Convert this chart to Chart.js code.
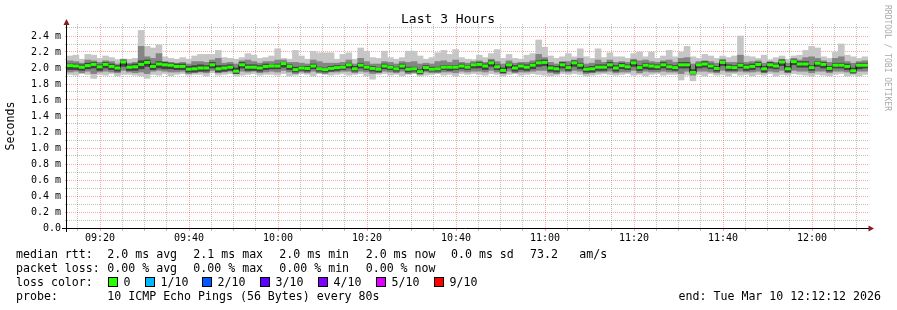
<!DOCTYPE html>
<html>
<head>
<meta charset="utf-8">
<script src="https://cdn.jsdelivr.net/npm/chart.js@4.4.1/dist/chart.umd.min.js"></script>
<style>
  html, body { margin: 0; padding: 0; background: #fff; }
  #wrap { width: 897px; height: 310px; }
</style>
</head>
<body>
<div id="wrap"><canvas id="chart" width="897" height="310"></canvas></div>
<script>
// time axis in minutes since midnight, 80s steps over 3 hours
const START = 552.58;
const STEP = 80 / 60;
const END = START + 180;

// median rtt per step (ms)
const medianRtt = [
  2.03,2.025,2.01,2.03,2.045,2.015,2.045,2.02,2.0,2.075,2.01,2.015,2.045,2.07,2.02,2.05,2.04,2.035,2.02,2.02,1.985,1.99,2.0,2.0,2.04,1.99,2.0,2.01,1.96,2.04,2.01,2.01,2.0,2.02,
  2.025,2.025,2.055,2.02,1.98,2.0,1.995,2.025,1.99,1.98,1.995,2.005,2.01,2.04,1.99,2.035,2.01,1.995,1.985,2.025,2.01,1.99,2.025,1.985,1.99,1.955,2.005,1.985,1.99,2.01,2.01,2.01,2.025,2.01,
  2.04,2.045,2.025,2.065,2.015,1.97,2.04,2.0,2.025,2.01,2.035,2.065,2.07,2.0,1.99,2.04,2.005,2.065,2.035,1.985,1.99,2.01,2.01,2.04,2.0,2.03,2.015,2.065,2.005,2.035,2.025,2.015,2.04,2.015,
  2.005,2.04,2.04,1.945,2.04,2.05,2.025,1.995,2.07,2.01,2.005,2.035,2.01,2.02,2.045,1.99,2.04,2.025,2.075,1.99,2.08,2.05,2.05,2.005,2.06,2.045,1.995,2.035,2.035,2.02,1.965,2.035,2.035
];

// smoke: outer band (slowest / fastest ping)
const smokeMax = [
  2.15,2.16,2.11,2.17,2.16,2.12,2.15,2.13,2.1,2.11,2.11,2.12,2.47,2.27,2.25,2.29,2.14,2.12,2.11,2.13,2.11,2.15,2.17,2.17,2.17,2.22,2.13,2.12,2.11,2.13,2.18,2.16,2.12,2.13,
  2.15,2.24,2.12,2.11,2.22,2.15,2.11,2.21,2.19,2.19,2.19,2.11,2.17,2.19,2.11,2.25,2.21,2.13,2.12,2.21,2.13,2.11,2.13,2.21,2.21,2.15,2.11,2.13,2.19,2.22,2.17,2.23,2.13,2.11,
  2.1,2.16,2.13,2.18,2.23,2.12,2.17,2.12,2.11,2.16,2.18,2.35,2.26,2.15,2.12,2.14,2.18,2.14,2.24,2.14,2.12,2.24,2.13,2.19,2.14,2.14,2.12,2.18,2.2,2.14,2.2,2.12,2.15,2.22,
  2.14,2.2,2.27,2.14,2.12,2.17,2.15,2.12,2.15,2.13,2.15,2.4,2.15,2.14,2.12,2.16,2.1,2.13,2.15,2.11,2.15,2.16,2.22,2.27,2.25,2.14,2.12,2.2,2.3,2.16,2.14,2.12,2.14
];
const smokeMin = [
  1.92,1.91,1.93,1.92,1.87,1.92,1.91,1.93,1.9,1.92,1.92,1.91,1.9,1.87,1.92,1.91,1.93,1.9,1.92,1.93,1.91,1.92,1.92,1.9,1.94,1.91,1.92,1.93,1.9,1.91,1.92,1.93,1.91,1.92,
  1.92,1.91,1.93,1.9,1.91,1.93,1.92,1.9,1.93,1.92,1.91,1.92,1.93,1.91,1.92,1.93,1.9,1.86,1.92,1.93,1.91,1.92,1.9,1.92,1.93,1.9,1.91,1.92,1.93,1.91,1.92,1.9,1.93,1.92,
  1.93,1.92,1.91,1.93,1.92,1.9,1.92,1.93,1.91,1.92,1.93,1.92,1.91,1.9,1.91,1.93,1.92,1.93,1.92,1.9,1.91,1.92,1.93,1.92,1.91,1.92,1.93,1.91,1.92,1.9,1.92,1.93,1.91,1.92,
  1.92,1.85,1.91,1.84,1.92,1.9,1.93,1.91,1.92,1.9,1.93,1.91,1.92,1.9,1.92,1.91,1.93,1.9,1.92,1.91,1.93,1.92,1.91,1.9,1.92,1.91,1.9,1.92,1.93,1.9,1.91,1.9,1.92
];

// smoke: middle band
const smokeHigh = [
  2.09,2.08,2.06,2.1,2.09,2.07,2.09,2.08,2.05,2.11,2.06,2.07,2.27,2.14,2.12,2.18,2.08,2.07,2.06,2.07,2.05,2.08,2.08,2.07,2.1,2.12,2.06,2.07,2.05,2.09,2.1,2.08,2.06,2.08,
  2.08,2.1,2.1,2.07,2.07,2.06,2.05,2.1,2.08,2.06,2.06,2.06,2.07,2.1,2.05,2.12,2.08,2.05,2.05,2.08,2.07,2.05,2.08,2.07,2.08,2.05,2.06,2.05,2.08,2.09,2.07,2.1,2.07,2.06,
  2.08,2.09,2.07,2.11,2.08,2.05,2.09,2.06,2.07,2.07,2.09,2.17,2.13,2.07,2.05,2.08,2.08,2.1,2.12,2.05,2.06,2.1,2.07,2.1,2.07,2.08,2.07,2.11,2.09,2.1,2.08,2.07,2.09,2.1,
  2.07,2.12,2.13,2.05,2.08,2.09,2.08,2.06,2.11,2.07,2.07,2.16,2.07,2.08,2.09,2.06,2.08,2.07,2.11,2.06,2.12,2.1,2.13,2.14,2.12,2.09,2.07,2.12,2.14,2.08,2.06,2.08,2.09
];
const smokeLow = [
  1.95,1.96,1.94,1.96,1.93,1.95,1.96,1.95,1.94,1.97,1.95,1.94,1.95,1.93,1.96,1.97,1.96,1.95,1.95,1.96,1.93,1.94,1.95,1.94,1.97,1.94,1.95,1.96,1.93,1.96,1.95,1.96,1.94,1.95,
  1.96,1.95,1.97,1.95,1.93,1.95,1.94,1.96,1.94,1.93,1.95,1.95,1.96,1.96,1.94,1.96,1.95,1.93,1.94,1.96,1.95,1.94,1.96,1.93,1.94,1.92,1.95,1.94,1.94,1.95,1.95,1.94,1.96,1.95,
  1.96,1.96,1.95,1.97,1.95,1.93,1.96,1.94,1.95,1.95,1.96,1.97,1.97,1.94,1.93,1.96,1.95,1.97,1.96,1.93,1.94,1.95,1.95,1.96,1.94,1.95,1.95,1.97,1.94,1.96,1.95,1.95,1.96,1.95,
  1.95,1.93,1.96,1.91,1.96,1.96,1.95,1.94,1.97,1.95,1.95,1.96,1.95,1.95,1.96,1.94,1.96,1.95,1.97,1.94,1.97,1.96,1.96,1.94,1.96,1.96,1.94,1.96,1.96,1.95,1.93,1.96,1.96
];

// smoke: inner band (pings closest to the median)
const coreHigh = [
  2.05,2.05,2.04,2.06,2.07,2.04,2.07,2.05,2.03,2.09,2.04,2.05,2.09,2.1,2.05,2.08,2.07,2.06,2.05,2.05,2.02,2.03,2.04,2.03,2.07,2.03,2.03,2.04,2.0,2.07,2.04,2.04,2.03,2.05,
  2.04,2.05,2.07,2.04,2.01,2.02,2.02,2.05,2.01,2.0,2.02,2.03,2.03,2.06,2.02,2.06,2.03,2.02,2.0,2.05,2.03,2.01,2.05,2.01,2.01,1.98,2.03,2.01,2.01,2.03,2.03,2.03,2.05,2.03,
  2.06,2.07,2.05,2.09,2.04,2.0,2.06,2.03,2.05,2.04,2.06,2.09,2.1,2.03,2.02,2.07,2.03,2.09,2.06,2.01,2.02,2.04,2.04,2.07,2.03,2.06,2.04,2.09,2.03,2.06,2.05,2.04,2.07,2.04,
  2.03,2.07,2.07,1.98,2.06,2.08,2.05,2.02,2.09,2.04,2.03,2.06,2.04,2.05,2.07,2.02,2.07,2.05,2.1,2.02,2.1,2.08,2.08,2.03,2.08,2.07,2.02,2.06,2.06,2.05,2.0,2.06,2.06
];
const coreLow = [
  1.98,1.98,1.97,1.99,2.0,1.97,2.0,1.98,1.96,2.02,1.97,1.97,1.99,2.02,1.98,2.0,1.99,1.99,1.98,1.98,1.95,1.95,1.96,1.96,2.0,1.95,1.96,1.97,1.93,2.0,1.97,1.97,1.96,1.98,
  1.99,1.99,2.01,1.98,1.95,1.97,1.96,1.99,1.96,1.95,1.96,1.97,1.98,2.0,1.96,2.0,1.98,1.96,1.95,1.99,1.98,1.96,1.99,1.95,1.96,1.93,1.97,1.96,1.96,1.98,1.97,1.98,1.99,1.98,
  2.0,2.0,1.98,2.02,1.98,1.94,2.0,1.96,1.98,1.97,1.99,2.02,2.03,1.96,1.95,2.0,1.97,2.02,1.99,1.95,1.95,1.97,1.97,2.0,1.96,1.99,1.98,2.02,1.97,1.99,1.98,1.98,2.0,1.98,
  1.97,2.0,2.0,1.93,2.0,2.01,1.99,1.96,2.03,1.97,1.97,2.0,1.97,1.98,2.01,1.95,2.0,1.99,2.03,1.95,2.04,2.01,2.01,1.97,2.02,2.0,1.96,2.0,2.0,1.98,1.94,1.99,2.0
];

// axis ticks
const timeTickLabels = ['09:20', '09:40', '10:00', '10:20', '10:40', '11:00', '11:20', '11:40', '12:00'];
const timeTickValues = [560, 580, 600, 620, 640, 660, 680, 700, 720];
const yTickLabels = ['0.0', '0.2 m', '0.4 m', '0.6 m', '0.8 m', '1.0 m', '1.2 m', '1.4 m', '1.6 m', '1.8 m', '2.0 m', '2.2 m', '2.4 m'];

// legend text
const rttStats = ['median rtt:', '2.0 ms avg', '2.1 ms max', '2.0 ms min', '2.0 ms now', '0.0 ms sd', '73.2', 'am/s'];
const lossStats = ['packet loss:', '0.00 % avg', '0.00 % max', '0.00 % min', '0.00 % now'];
const lossLabels = ['0', '1/10', '2/10', '3/10', '4/10', '5/10', '9/10'];
const lossColors = ['#26ff00', '#00b8ff', '#0059ff', '#5e00ff', '#7e00ff', '#dd00ff', '#ff0000'];
const probeText = '10 ICMP Echo Pings (56 Bytes) every 80s';
const endText = 'end: Tue Mar 10 12:12:12 2026';

const MONO = '"DejaVu Sans Mono", monospace';
const RED_GRID = 'rgba(255, 0, 0, 0.35)';
const GREY_GRID = 'rgba(120, 120, 120, 0.45)';

const xs = medianRtt.map((_, i) => START + (i + 0.5) * STEP);
const band = (lo, hi) => lo.map((v, i) => ({ x: xs[i], y: [v, hi[i]] }));

const minorTimes = [];
for (let t = Math.ceil(START / 5) * 5; t <= END; t += 5) minorTimes.push(t);

const decor = {
  id: 'decor',
  afterDraw(chart) {
    const c = chart.ctx;
    const a = chart.chartArea;
    c.save();

    // axes
    c.strokeStyle = '#000';
    c.lineWidth = 1;
    c.beginPath();
    c.moveTo(62, a.bottom + 0.5);
    c.lineTo(a.right + 1, a.bottom + 0.5);
    c.moveTo(a.left - 0.5, a.bottom + 4);
    c.lineTo(a.left - 0.5, a.top - 1);
    c.stroke();

    // arrow heads
    c.fillStyle = '#8b1a1a';
    c.beginPath();
    c.moveTo(a.left - 0.5, a.top - 5);
    c.lineTo(a.left - 3.5, a.top + 1);
    c.lineTo(a.left + 2.5, a.top + 1);
    c.closePath();
    c.fill();
    c.beginPath();
    c.moveTo(a.right + 6, a.bottom + 0.5);
    c.lineTo(a.right + 0.5, a.bottom - 2.5);
    c.lineTo(a.right + 0.5, a.bottom + 3.5);
    c.closePath();
    c.fill();

    // title
    c.fillStyle = '#000';
    c.textBaseline = 'middle';
    c.textAlign = 'center';
    c.font = '13px ' + MONO;
    c.fillText('Last 3 Hours', 448, 20);

    // y axis title
    c.save();
    c.translate(11, 126);
    c.rotate(-Math.PI / 2);
    c.font = '11.6px ' + MONO;
    c.fillText('Seconds', 0, 0);
    c.restore();

    // watermark
    c.save();
    c.translate(887, 58);
    c.rotate(Math.PI / 2);
    c.fillStyle = '#aaaaaa';
    c.font = '8px ' + MONO;
    c.fillText('RRDTOOL / TOBI OETIKER', 0, 0);
    c.restore();

    // legend rows
    c.textAlign = 'left';
    c.font = '11.6px ' + MONO;
    const rttX = [16, 107.3, 193.3, 279.3, 365.7, 451, 530, 579.3];
    rttStats.forEach((s, i) => c.fillText(s, rttX[i], 254.5));
    lossStats.forEach((s, i) => c.fillText(s, rttX[i], 268.5));
    c.fillText('loss color:', 16, 282.5);
    const boxX = [109, 146, 203, 261, 319, 377, 435];
    lossLabels.forEach((s, i) => {
      c.fillStyle = lossColors[i];
      c.fillRect(boxX[i], 278, 8, 8);
      c.strokeStyle = '#000';
      c.strokeRect(boxX[i] - 0.5, 277.5, 9, 9);
      c.fillStyle = '#000';
      c.fillText(s, boxX[i] + 14.5, 282.5);
    });
    c.fillText('probe:', 16, 296.5);
    c.fillText(probeText, 107.3, 296.5);
    c.textAlign = 'right';
    c.fillText(endText, 881, 296.5);

    c.restore();
  }
};

new Chart(document.getElementById('chart'), {
  type: 'bar',
  data: {
    datasets: [
      {
        type: 'line',
        label: 'median',
        data: medianRtt.map((v, i) => ({ x: xs[i], y: v })),
        stepped: 'middle',
        borderColor: '#000',
        borderWidth: 1,
        pointStyle: 'line',
        pointRadius: 3,
        pointBorderColor: '#26ff00',
        pointBorderWidth: 3,
        order: 0
      },
      { label: 'core', data: band(coreLow, coreHigh), backgroundColor: '#424242', order: 1 },
      { label: 'mid', data: band(smokeLow, smokeHigh), backgroundColor: '#858585', order: 2 },
      { label: 'outer', data: band(smokeMin, smokeMax), backgroundColor: '#c6c6c6', order: 3 }
    ]
  },
  options: {
    responsive: false,
    animation: false,
    events: [],
    layout: { padding: { top: 24, right: 29, left: 0, bottom: 0 } },
    datasets: {
      bar: { grouped: false, barPercentage: 1, categoryPercentage: 1, borderWidth: 0 }
    },
    plugins: {
      legend: { display: false },
      title: { display: false },
      tooltip: { enabled: false }
    },
    scales: {
      x: {
        type: 'linear',
        min: START,
        max: END,
        offset: false,
        afterBuildTicks: s => { s.ticks = minorTimes.map(v => ({ value: v })); },
        afterFit: s => { s.height = 82; },
        grid: {
          offset: false,
          color: ctx => (ctx.tick.value % 20 === 0 ? RED_GRID : GREY_GRID),
          tickColor: ctx => (ctx.tick.value % 20 === 0 ? RED_GRID : GREY_GRID),
          tickLength: 3
        },
        border: { display: false, dash: [1, 1] },
        ticks: {
          autoSkip: false,
          maxRotation: 0,
          padding: 1,
          color: '#000',
          font: { family: MONO, size: 10, lineHeight: 1.2 },
          callback: v => {
            const k = timeTickValues.indexOf(v);
            return k < 0 ? '' : timeTickLabels[k];
          }
        }
      },
      y: {
        min: 0,
        max: 2.55,
        afterBuildTicks: s => {
          const t = [];
          for (let i = 0; i <= 25; i++) t.push({ value: i / 10 });
          s.ticks = t;
        },
        afterFit: s => { s.width = 67; },
        grid: {
          color: ctx => (Math.round(ctx.tick.value * 10) % 2 === 0 ? RED_GRID : GREY_GRID),
          tickColor: ctx => (Math.round(ctx.tick.value * 10) % 2 === 0 ? RED_GRID : GREY_GRID),
          tickLength: 2
        },
        border: { display: false, dash: [1, 1] },
        ticks: {
          autoSkip: false,
          padding: 4,
          color: '#000',
          font: { family: MONO, size: 10 },
          callback: v => {
            const n = Math.round(v * 10);
            return n % 2 === 0 ? yTickLabels[n / 2] : '';
          }
        }
      }
    }
  },
  plugins: [decor]
});
</script>
</body>
</html>
